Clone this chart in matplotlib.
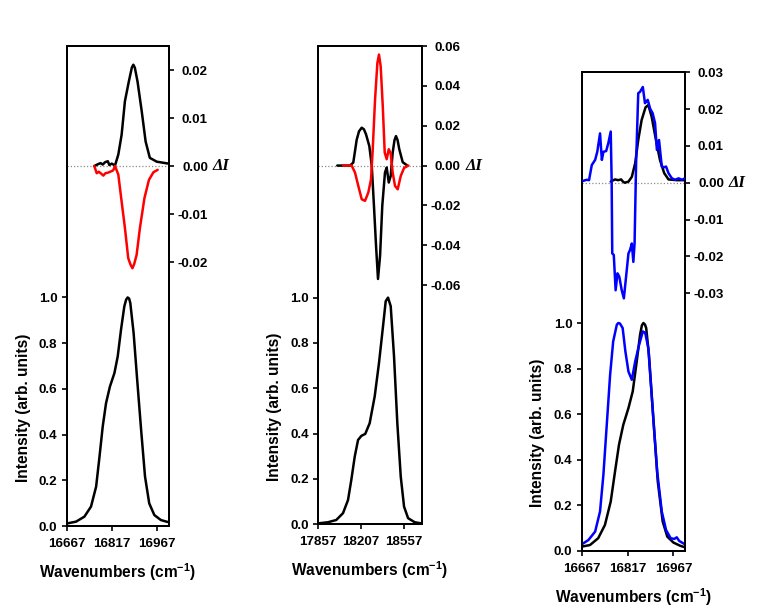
import matplotlib
matplotlib.use('Agg')
import matplotlib.pyplot as plt
from matplotlib.ticker import FixedLocator, FormatStrFormatter

plt.rcParams['font.family'] = ['Liberation Sans', 'DejaVu Sans']
plt.rcParams['font.weight'] = 'bold'
plt.rcParams['axes.unicode_minus'] = False
plt.rcParams['mathtext.fontset'] = 'custom'
plt.rcParams['mathtext.rm'] = 'Liberation Sans:bold'
plt.rcParams['mathtext.bf'] = 'Liberation Sans:bold'
plt.rcParams['mathtext.it'] = 'Liberation Sans:bold:italic'

# ---- panel 1 (16667 region) ----
p1_wn_int = [16667, 16698, 16726, 16748, 16765, 16776, 16787, 16798, 16811, 16826,
             16837, 16848, 16859, 16865, 16870, 16875, 16879, 16890, 16901, 16915,
             16928, 16942, 16959, 16981, 17008]
p1_int = [0.011, 0.019, 0.041, 0.085, 0.172, 0.30, 0.435, 0.537, 0.61, 0.669,
          0.742, 0.859, 0.961, 0.99, 1.0, 0.995, 0.975, 0.844, 0.654, 0.42,
          0.216, 0.099, 0.048, 0.026, 0.016]

p1_wn_dblack = [16759, 16772, 16780, 16787, 16795, 16804, 16809, 16817, 16828, 16839,
                16850, 16861, 16874, 16884, 16889, 16894, 16903, 16917, 16930, 16944,
                16967, 17006]
p1_dblack = [0.0, 0.0004, 0.0006, 0.0003, 0.0008, 0.001, 0.0002, 0.0005, 0.0001, 0.0024,
             0.0065, 0.0135, 0.0176, 0.0205, 0.0211, 0.0205, 0.0176, 0.0114, 0.0051, 0.0017,
             0.0009, 0.0005]

p1_wn_dred = [16759, 16767, 16774, 16782, 16789, 16796, 16804, 16812, 16822, 16828,
              16839, 16850, 16861, 16872, 16880, 16886, 16892, 16900, 16911, 16926,
              16941, 16956, 16970]
p1_dred = [0.0, -0.0015, -0.0012, -0.0016, -0.002, -0.0015, -0.0014, -0.0012, -0.0009, 0.0,
           -0.0018, -0.0074, -0.0129, -0.0192, -0.0206, -0.0213, -0.0204, -0.0185, -0.0129, -0.0067,
           -0.0029, -0.0013, -0.0008]

# ---- panel 2 (17857 region) ----
p2_wn_int = [17855, 17936, 18004, 18059, 18100, 18127, 18155, 18182, 18209, 18241,
             18277, 18318, 18353, 18386, 18408, 18427, 18449, 18476, 18503, 18531,
             18558, 18591, 18645, 18699]
p2_int = [0.004, 0.009, 0.019, 0.049, 0.107, 0.196, 0.299, 0.372, 0.39, 0.399,
          0.446, 0.564, 0.711, 0.873, 0.984, 1.0, 0.962, 0.741, 0.446, 0.21,
          0.078, 0.027, 0.009, 0.004]

p2_wn_dblack = [18012, 18116, 18143, 18171, 18190, 18212, 18230, 18247, 18274, 18294,
                18312, 18329, 18345, 18362, 18380, 18402, 18416, 18433, 18449, 18465,
                18480, 18492, 18505, 18519, 18547, 18585]
p2_dblack = [0.0, 0.0, 0.0015, 0.013, 0.0172, 0.019, 0.0182, 0.0157, 0.0098, 0.0,
             -0.0202, -0.0402, -0.0569, -0.0452, -0.0202, -0.0035, -0.001, -0.0085, -0.0052, 0.0065,
             0.0128, 0.0148, 0.0128, 0.0082, 0.0017, 0.0]

p2_wn_dred = [18061, 18130, 18157, 18184, 18212, 18239, 18266, 18288, 18302, 18321,
              18340, 18353, 18367, 18384, 18400, 18416, 18433, 18449, 18465, 18484,
              18506, 18531, 18558, 18593]
p2_dred = [0.0, 0.0, -0.0035, -0.0102, -0.0169, -0.0177, -0.0135, -0.0069, 0.0082, 0.0332,
           0.0515, 0.0557, 0.0498, 0.0298, 0.0065, 0.0032, 0.0082, 0.006, -0.0035, -0.0102,
           -0.0119, -0.0052, -0.0012, 0.0]

# ---- panel 3 (16667 region, two spectra) ----
p3_wn_int_black = [16667, 16694, 16721, 16743, 16762, 16776, 16789, 16803, 16820, 16834,
                   16847, 16858, 16864, 16869, 16874, 16878, 16887, 16902, 16916, 16932,
                   16947, 16967, 16989, 17005]
p3_int_black = [0.019, 0.026, 0.056, 0.114, 0.217, 0.348, 0.466, 0.553, 0.627, 0.70,
                0.831, 0.949, 0.99, 1.0, 0.993, 0.978, 0.861, 0.568, 0.304, 0.129,
                0.063, 0.037, 0.023, 0.016]

p3_wn_int_blue = [16667, 16689, 16711, 16727, 16738, 16749, 16760, 16770, 16782, 16787,
                  16792, 16801, 16810, 16820, 16831, 16842, 16855, 16867, 16875, 16885,
                  16899, 16914, 16929, 16943, 16958, 16970, 16978, 16986, 17005]
p3_int_blue = [0.029, 0.048, 0.085, 0.173, 0.334, 0.553, 0.773, 0.919, 0.993, 1.0,
               0.998, 0.978, 0.875, 0.787, 0.751, 0.831, 0.905, 0.963, 0.956, 0.89,
               0.627, 0.348, 0.173, 0.092, 0.056, 0.053, 0.06, 0.044, 0.029]

p3_wn_dblack = [16762, 16776, 16786, 16796, 16802, 16808, 16820, 16831, 16842, 16852,
                16863, 16876, 16885, 16896, 16910, 16923, 16937, 16951, 16978, 17005]
p3_dblack = [0.0003, 0.0009, 0.0007, 0.0009, 0.0003, 0.0, 0.0003, 0.0016, 0.0053, 0.0116,
             0.017, 0.0205, 0.0211, 0.0179, 0.0116, 0.0062, 0.0026, 0.0009, 0.0007, 0.0007]

p3_wn_dblue = [16672, 16683, 16691, 16700, 16711, 16718, 16727, 16733, 16738, 16747,
               16754, 16762, 16765, 16767, 16772, 16778, 16784, 16790, 16798, 16805,
               16811, 16820, 16825, 16831, 16836, 16840, 16845, 16852, 16858, 16867,
               16874, 16883, 16891, 16899, 16907, 16913, 16920, 16929, 16937, 16943,
               16951, 16962, 16973, 16984, 16995, 17005]
p3_dblue = [0.0005, 0.0008, 0.0007, 0.0048, 0.0062, 0.0084, 0.0134, 0.0062, 0.0084, 0.0086,
            0.0107, 0.0139, 0.0007, -0.0192, -0.0196, -0.0292, -0.0246, -0.0255, -0.0292, -0.0314,
            -0.0265, -0.0192, -0.0183, -0.0165, -0.0215, -0.0165, 0.0053, 0.0243, 0.0247, 0.026,
            0.0216, 0.0225, 0.0201, 0.0189, 0.0162, 0.0089, 0.0116, 0.0044, 0.0042, 0.0044,
            0.0026, 0.0012, 0.0008, 0.0012, 0.0008, 0.0012]

int_ticks = [0.0, 0.2, 0.4, 0.6, 0.8, 1.0]


def draw_panel(fig, rect, xlim, xticks, left_top, rlim, rticks,
               int_curves, diff_curves):
    ax = fig.add_axes(rect)
    ax2 = ax.twinx()

    for wn, vals, col in int_curves:
        ax.plot(wn, vals, color=col, lw=1.8, zorder=3,
                solid_joinstyle='round', solid_capstyle='round')
    ax2.axhline(0, color='#8c8c8c', lw=0.9, ls=(0, (1, 1.6)), zorder=1)
    for wn, vals, col in diff_curves:
        ax2.plot(wn, vals, color=col, lw=1.8, zorder=3,
                 solid_joinstyle='round', solid_capstyle='round')

    ax.set_xlim(*xlim)
    ax.set_ylim(0, left_top)
    ax2.set_ylim(*rlim)

    ax.xaxis.set_major_locator(FixedLocator(xticks))
    ax.yaxis.set_major_locator(FixedLocator(int_ticks))
    ax.yaxis.set_major_formatter(FormatStrFormatter('%.1f'))
    ax2.yaxis.set_major_locator(FixedLocator(rticks))
    ax2.yaxis.set_major_formatter(FormatStrFormatter('%.2f'))

    for a in (ax, ax2):
        for sp in a.spines.values():
            sp.set_linewidth(1.4)
    ax.tick_params(axis='both', direction='out', length=3.5, width=1.2,
                   labelsize=9.6, pad=3.2)
    ax.tick_params(axis='x', pad=5)
    ax2.tick_params(axis='y', direction='out', length=3.5, width=1.2,
                    labelsize=9.6, pad=24.5)
    for lbl in ax2.get_yticklabels():
        lbl.set_horizontalalignment('right')

    ax2.annotate('ΔI', xy=(1, 0), xycoords=('axes fraction', 'data'),
                 xytext=(31.5, 0), textcoords='offset points',
                 ha='left', va='center', fontsize=12,
                 family='Liberation Serif', weight='bold', style='italic')

    ax.text(-0.425, 0.246, 'Intensity (arb. units)', transform=ax.transAxes,
            rotation=90, ha='center', va='center', fontsize=11.2)
    ax.annotate(r'Wavenumbers (cm$^{-1}$)', xy=(0.5, 0), xycoords='axes fraction',
                xytext=(0, -33), textcoords='offset points',
                ha='center', va='center', fontsize=11.2)
    return ax, ax2


fig = plt.figure(figsize=(7.58, 6.15), dpi=100)

draw_panel(fig, [0.0880, 0.1447, 0.1350, 0.7805],
           (16667, 17008), [16667, 16817, 16967], 2.10, (-0.075, 0.025),
           [-0.02, -0.01, 0.0, 0.01, 0.02],
           [(p1_wn_int, p1_int, 'black')],
           [(p1_wn_dblack, p1_dblack, 'black'), (p1_wn_dred, p1_dred, 'red')])

draw_panel(fig, [0.4199, 0.1475, 0.1364, 0.7777],
           (17857, 18702), [17857, 18207, 18557], 2.11, (-0.18, 0.06),
           [-0.06, -0.04, -0.02, 0.0, 0.02, 0.04, 0.06],
           [(p2_wn_int, p2_int, 'black')],
           [(p2_wn_dblack, p2_dblack, 'black'), (p2_wn_dred, p2_dred, 'red')])

draw_panel(fig, [0.7674, 0.1041, 0.1363, 0.7784],
           (16667, 17005), [16667, 16817, 16967], 2.10, (-0.10, 0.03),
           [-0.03, -0.02, -0.01, 0.0, 0.01, 0.02, 0.03],
           [(p3_wn_int_black, p3_int_black, 'black'), (p3_wn_int_blue, p3_int_blue, 'blue')],
           [(p3_wn_dblack, p3_dblack, 'black'), (p3_wn_dblue, p3_dblue, 'blue')])

fig.savefig('out.png', dpi=100, facecolor='white')
plt.close(fig)
